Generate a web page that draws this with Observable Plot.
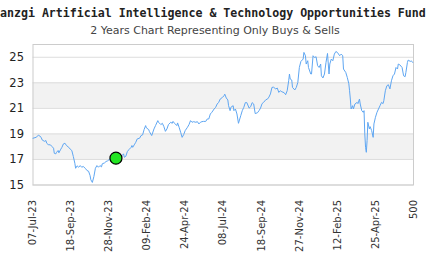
<!DOCTYPE html>
<html><head><meta charset="utf-8">
<script src="https://cdn.jsdelivr.net/npm/d3@7"></script>
<script src="https://cdn.jsdelivr.net/npm/@observablehq/plot@0.6"></script>
<style>
body{margin:0;background:#fff;width:430px;height:260px;overflow:hidden;}
#title{position:relative;height:24px;overflow:hidden;white-space:nowrap;font:bold 11.6px "DejaVu Sans Mono",monospace;color:#222;}
#title span{position:absolute;left:0;top:6px;}
#sub{height:14px;line-height:14px;text-align:center;font:11px "DejaVu Sans",sans-serif;color:#444;white-space:nowrap;}
#chart svg{display:block;}
</style></head><body>
<div id="title"><span>anzgi Artificial Intelligence &amp; Technology Opportunities Fund</span></div>
<div id="sub">2 Years Chart Representing Only Buys &amp; Sells</div>
<div id="chart"></div>
<script>
const dayIndex = [0,4,7,9,11,12,15,17,18,20,23,25,27,28,30,31,33,34,36,38,40,42,44,47,49,51,53,55,56,58,60,62,64,66,69,71,73,75,76,78,80,82,84,86,88,90,91,94,96,98,100,102,104,107,110,113,117,119,120,122,124,126,129,130,131,133,135,137,140,142,144,146,148,149,152,153,156,159,161,164,165,168,170,172,174,176,178,181,183,184,186,189,190,192,194,196,198,200,203,205,207,209,211,214,216,218,220,222,224,227,229,231,233,235,238,240,242,244,246,249,251,252,254,256,257,259,260,263,264,266,268,270,273,275,277,279,281,284,286,288,290,292,295,297,299,301,303,306,308,310,312,314,316,319,321,323,325,327,330,332,334,336,337,338,340,341,344,346,348,350,352,355,356,358,359,361,362,365,366,368,370,372,374,376,378,379,381,383,385,387,389,390,392,394,396,398,400,403,405,407,408,411,413,415,416,417,418,420,421,423,426,427,429,430,432,434,435,436,437,438,439,440,442,443,445,447,448,450,452,454,456,458,460,461,463,465,467,469,471,473,475,477,479,480,482,485,487,489,490,492,493,496,497,499];
const price = [18.66,18.73,18.89,18.84,18.69,18.53,18.42,18.48,18.27,18.16,18.14,18.01,17.88,17.48,17.44,17.56,17.70,17.52,17.75,17.95,18.22,18.27,18.09,17.95,17.80,17.70,17.23,16.70,16.31,16.50,16.39,16.52,16.39,16.45,16.29,16.13,16.08,15.74,15.41,15.20,15.66,16.31,16.52,16.39,16.52,16.42,16.66,16.73,16.84,16.89,16.99,17.05,17.03,17.07,17.11,17.17,17.30,17.44,17.17,17.25,17.62,17.77,17.95,18.09,17.95,18.14,18.34,18.61,18.66,18.87,18.92,19.34,19.65,19.47,19.34,19.18,18.87,19.39,19.65,20.04,19.91,19.73,19.83,19.57,19.20,19.39,19.73,19.91,19.83,19.98,19.83,19.65,19.86,19.52,19.13,18.73,18.95,19.26,19.52,19.73,20.04,19.91,19.96,19.91,19.96,19.78,19.91,19.96,19.98,19.98,20.17,20.17,20.56,20.69,20.95,21.08,21.34,21.47,21.73,21.86,21.99,22.11,21.81,21.66,21.21,20.82,21.08,21.21,20.82,20.95,20.56,19.83,20.43,20.82,21.08,21.45,21.45,21.02,21.13,21.45,21.34,20.59,20.66,20.82,21.02,21.37,21.47,21.68,21.72,21.88,22.13,22.64,22.66,22.52,22.59,22.25,22.38,22.30,22.23,22.07,22.38,23.16,23.69,23.30,23.22,22.64,22.44,22.64,23.03,24.20,24.67,24.86,25.38,25.12,24.47,24.73,24.20,23.69,23.69,25.12,24.98,25.04,24.34,24.20,24.47,23.55,23.38,23.69,24.59,25.30,23.69,24.47,24.86,24.73,25.25,25.45,25.38,25.12,25.25,25.12,24.08,23.81,23.42,22.93,22.38,21.73,20.95,21.21,20.95,21.34,21.47,21.37,21.73,21.34,20.82,20.69,20.82,19.00,17.95,17.56,18.48,19.91,19.39,19.57,19.26,18.73,19.78,20.30,20.69,20.95,21.21,21.47,21.37,21.60,22.38,22.77,22.85,22.52,23.16,23.55,23.69,24.20,24.08,24.47,24.41,24.20,23.55,23.48,23.81,24.59,24.78,24.67,24.73,24.59];
const buyIndex = [109];
const buyPrice = [17.1];
const tickIndex = [0,50,100,150,200,250,300,350,400,450,500];
const tickLabels = ["07-Jul-23","18-Sep-23","28-Nov-23","09-Feb-24","24-Apr-24","08-Jul-24","18-Sep-24","27-Nov-24","12-Feb-25","25-Apr-25","500"];
const yTicks = [15,17,19,21,23,25];
const bandLow = [17,21];
const bandHigh = [19,23];

const series = dayIndex.map((d,k)=>({d, p:price[k]}));
const buys = buyIndex.map((d,k)=>({d, p:buyPrice[k]}));
const bands = bandLow.map((lo,k)=>({lo, hi:bandHigh[k]}));

const chart = Plot.plot({
  width:430, height:222,
  marginTop:6, marginBottom:75.5, marginLeft:32.5, marginRight:17,
  style:{fontFamily:"'DejaVu Sans', sans-serif", background:"#fff"},
  x:{domain:[0,500]},
  y:{domain:[15,26]},
  marks:[
    Plot.rect(bands,{y1:"lo",y2:"hi",fill:"#f2f2f2"}),
    Plot.ruleY(yTicks,{stroke:"#dddddd",strokeWidth:1}),
    Plot.frame({stroke:"#cccccc",strokeWidth:1}),
    Plot.line(series,{x:"d",y:"p",stroke:"#5ea6f2",strokeWidth:1}),
    Plot.dot(buys,{x:"d",y:"p",r:6,fill:"#22e622",stroke:"#000",strokeWidth:1.2}),
    Plot.axisX(tickIndex,{tickFormat:(d)=>tickLabels[tickIndex.indexOf(d)],tickRotate:-90,tickSize:0,tickPadding:15,fontSize:10,fill:"#333",label:null}),
    Plot.axisY(yTicks,{tickSize:0,tickPadding:9,fontSize:11.5,fill:"#222",label:null})
  ]
});
document.getElementById("chart").appendChild(chart);
</script>
</body></html>
